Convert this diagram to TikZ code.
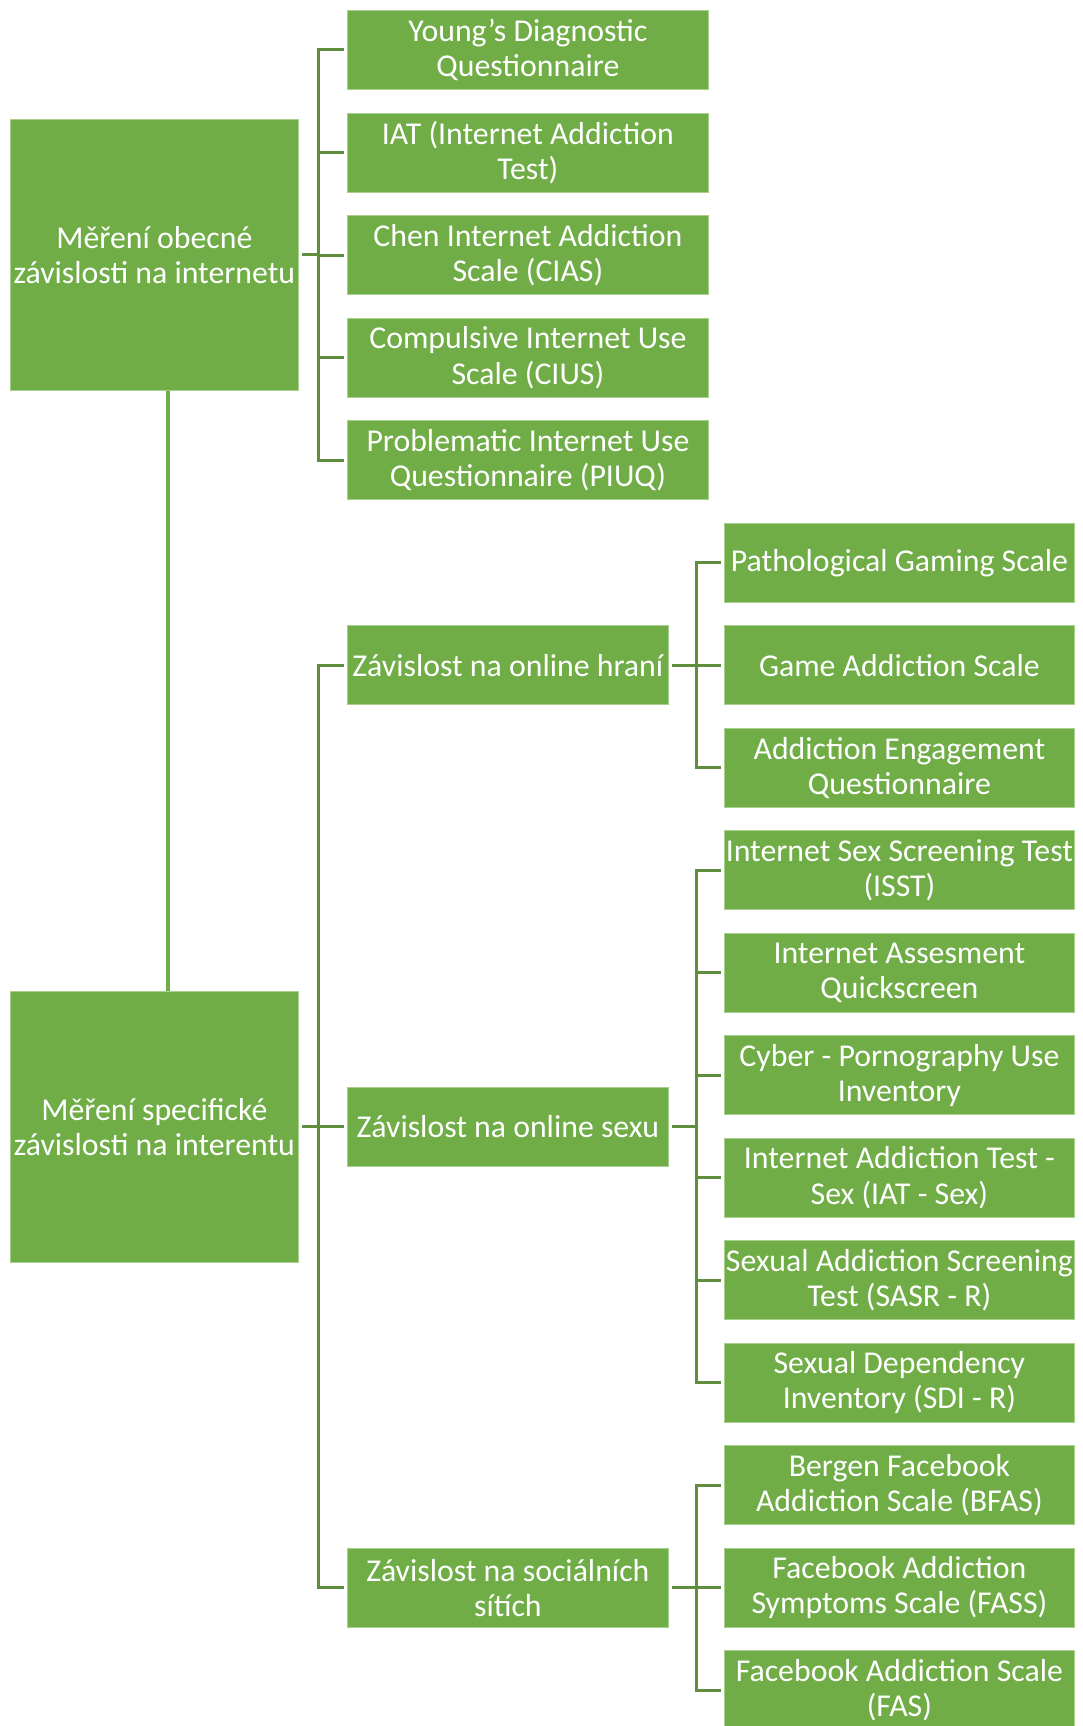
\documentclass[tikz,border=0pt]{standalone}
\usepackage{fontspec}
\setmainfont{Carlito}
\definecolor{boxgreen}{HTML}{70AD47}
\definecolor{linegreen}{HTML}{5E8E3E}
\definecolor{edgegreen}{HTML}{A8D08D}
\begin{document}
\begin{tikzpicture}[x=1pt,y=-1pt,
 box/.style={rectangle, anchor=north west, fill=boxgreen, draw=edgegreen, line width=0.8pt, text=white, align=center, inner sep=0pt, font=\fontsize{31.8}{35.2}\selectfont},
 lone/.style={box, minimum width=288pt, minimum height=271pt},
 ltwo/.style={box, minimum width=361pt, minimum height=79pt},
 lmid/.style={box, minimum width=321pt, minimum height=79pt},
 lthree/.style={box, minimum width=350pt, minimum height=79pt},
 conn/.style={draw=linegreen, line width=3pt},
 link/.style={draw=boxgreen, line width=4pt}]
\useasboundingbox (0,0) rectangle (1082,1726);
\clip (0,0) rectangle (1082,1726);

% level 1
\node[lone] (ga) at (10,119) {Měření obecné\\závislosti na internetu};
\node[lone] (sa) at (10,991) {Měření specifické\\závislosti na interentu};

% general group
\node[ltwo] (t1) at (347,10.0) {Young’s Diagnostic\\Questionnaire};
\node[ltwo] (t2) at (347,112.6) {IAT (Internet Addiction\\Test)};
\node[ltwo] (t3) at (347,215.2) {Chen Internet Addiction\\Scale (CIAS)};
\node[ltwo] (t4) at (347,317.8) {Compulsive Internet Use\\Scale (CIUS)};
\node[ltwo] (t5) at (347,420.4) {Problematic Internet Use\\Questionnaire (PIUQ)};

% specific group
\node[lmid] (m1) at (347,625.3) {Závislost na online hraní};
\node[lmid] (m2) at (347,1086.5) {Závislost na online sexu};
\node[lmid] (m3) at (347,1547.8) {Závislost na sociálních\\sítích};

% level 3
\node[lthree] (c0) at (724,522.8) {Pathological Gaming Scale};
\node[lthree] (c1) at (724,625.3) {Game Addiction Scale};
\node[lthree] (c2) at (724,727.8) {Addiction Engagement\\Questionnaire};
\node[lthree] (c3) at (724,830.3) {Internet Sex Screening Test\\(ISST)};
\node[lthree] (c4) at (724,932.8) {Internet Assesment\\Quickscreen};
\node[lthree] (c5) at (724,1035.3) {Cyber - Pornography Use\\Inventory};
\node[lthree] (c6) at (724,1137.8) {Internet Addiction Test -\\Sex (IAT - Sex)};
\node[lthree] (c7) at (724,1240.3) {Sexual Addiction Screening\\Test (SASR - R)};
\node[lthree] (c8) at (724,1342.8) {Sexual Dependency\\Inventory (SDI - R)};
\node[lthree] (c9) at (724,1445.3) {Bergen Facebook\\Addiction Scale (BFAS)};
\node[lthree] (c10) at (724,1547.8) {Facebook Addiction\\Symptoms Scale (FASS)};
\node[lthree] (c11) at (724,1650.3) {Facebook Addiction Scale\\(FAS)};

% junction columns
\coordinate (ja) at (318,0);
\coordinate (jb) at (696,0);

% link between level-1 boxes
\draw[link] ([xshift=13.5pt]ga.south) -- ([xshift=13.5pt]ga.south |- sa.north);

% general bracket
\draw[conn] ([xshift=3pt]ga.east) -- (ja |- ga.east);
\draw[conn] ([xshift=-3pt]t1.west) -| (ja |- t5.west) -- ([xshift=-3pt]t5.west);
\foreach \n in {t2,t3,t4} \draw[conn] (ja |- \n.west) -- ([xshift=-3pt]\n.west);

% specific bracket
\draw[conn] ([xshift=3pt]sa.east) -- (ja |- sa.east);
\draw[conn] ([xshift=-3pt]m1.west) -| (ja |- m3.west) -- ([xshift=-3pt]m3.west);
\draw[conn] (ja |- m2.west) -- ([xshift=-3pt]m2.west);

% gaming
\draw[conn] ([xshift=3pt]m1.east) -- (jb |- m1.east);
\draw[conn] ([xshift=-3pt]c0.west) -| (jb |- c2.west) -- ([xshift=-3pt]c2.west);
\draw[conn] (jb |- c1.west) -- ([xshift=-3pt]c1.west);

% sex
\draw[conn] ([xshift=3pt]m2.east) -- (jb |- m2.east);
\draw[conn] ([xshift=-3pt]c3.west) -| (jb |- c8.west) -- ([xshift=-3pt]c8.west);
\foreach \n in {c4,c5,c6,c7} \draw[conn] (jb |- \n.west) -- ([xshift=-3pt]\n.west);

% social
\draw[conn] ([xshift=3pt]m3.east) -- (jb |- m3.east);
\draw[conn] ([xshift=-3pt]c9.west) -| (jb |- c11.west) -- ([xshift=-3pt]c11.west);
\draw[conn] (jb |- c10.west) -- ([xshift=-3pt]c10.west);
\end{tikzpicture}
\end{document}
